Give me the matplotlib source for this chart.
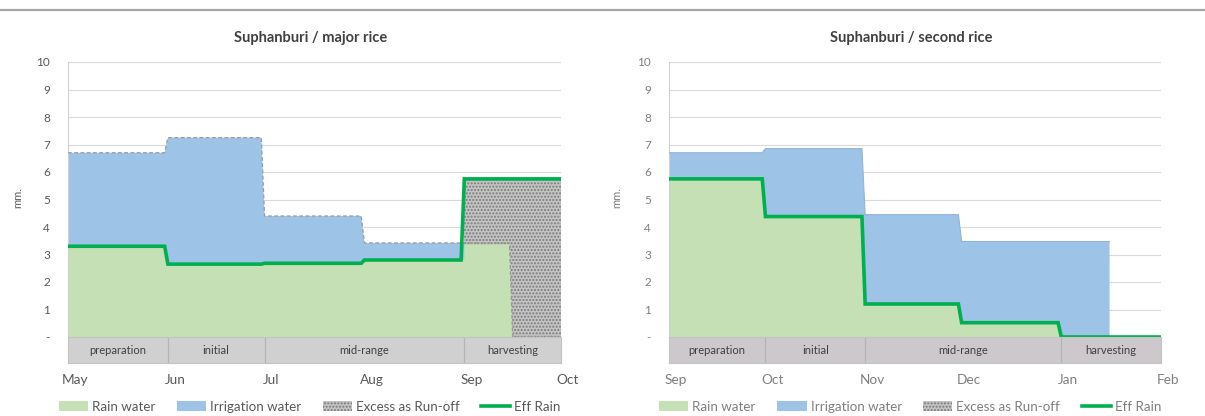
import numpy as np
import matplotlib
matplotlib.use("Agg")
import matplotlib.pyplot as plt
import matplotlib.dates as mdates
import matplotlib.transforms as mtransforms
from matplotlib.patches import Patch
from matplotlib.lines import Line2D

plt.rcParams['font.family'] = ['Lato', 'DejaVu Sans']

# ---------------- data: major rice (May - Oct) ----------------
major_title = "Suphanburi / major rice"
major_months = ['May', 'Jun', 'Jul', 'Aug', 'Sep', 'Oct']
major_month_starts = ['2016-05-01', '2016-06-01', '2016-07-01', '2016-08-01', '2016-09-01', '2016-10-01']
major_breaks = ['2016-05-01', '2016-06-01', '2016-07-01', '2016-08-01', '2016-09-01', '2016-09-16', '2016-10-01']
major_rain = [3.3, 2.65, 2.68, 2.8, 3.37, 0.0]
major_total = [6.7, 7.25, 4.4, 3.42, 3.42, 0.0]        # rain + irrigation (top)
major_irrig_segments = 4                                 # irrigation only May-Aug
major_eff = [3.3, 2.65, 2.68, 2.8, 5.75, 5.75]
major_excess_breaks = ['2016-09-01', '2016-10-01']
major_excess = [5.75]
major_phases = ['preparation', 'initial', 'mid-range', 'harvesting']
major_phase_breaks = ['2016-05-01', '2016-06-01', '2016-07-01', '2016-09-01', '2016-10-01']

# ---------------- data: second rice (Sep - Feb) ----------------
second_title = "Suphanburi / second rice"
second_months = ['Sep', 'Oct', 'Nov', 'Dec', 'Jan', 'Feb']
second_month_starts = ['2016-09-01', '2016-10-01', '2016-11-01', '2016-12-01', '2017-01-01', '2017-02-01']
second_breaks = ['2016-09-01', '2016-10-01', '2016-11-01', '2016-12-01', '2017-01-01', '2017-01-16', '2017-02-01']
second_rain = [5.75, 4.38, 1.2, 0.52, 0.0, 0.0]
second_total = [6.7, 6.85, 4.45, 3.47, 3.47, 0.0]
second_eff = [5.75, 4.38, 1.2, 0.52, 0.0, 0.0]
second_phases = ['preparation', 'initial', 'mid-range', 'harvesting']
second_phase_breaks = ['2016-09-01', '2016-10-01', '2016-11-01', '2017-01-01', '2017-02-01']

legend_labels = ['Rain water', 'Irrigation water', 'Excess as Run-off', 'Eff Rain']
ytick_labels = ['-', '1', '2', '3', '4', '5', '6', '7', '8', '9', '10']

# ---------------- styles ----------------
GREEN_FILL = '#c5e0b4'
BLUE_FILL = '#9dc3e6'
EFF_LINE = '#00b050'
GRID = '#d9d9d9'
TXT = '#595959'

W, H = 1205, 416


def steps(breaks, vals, ramp=1.0):
    b = mdates.datestr2num(breaks)
    xs, ys = [], []
    for i, v in enumerate(vals):
        xs += [b[i], b[i + 1] - (ramp if i < len(vals) - 1 else 0)]
        ys += [v, v]
    return np.array(xs), np.array(ys)


def px_axes(fig, x0, x1, ytop, ybot):
    return fig.add_axes([x0 / W, 1 - ybot / H, (x1 - x0) / W, (ybot - ytop) / H])


fig = plt.figure(figsize=(W / 100, H / 100), dpi=100)
fig.patch.set_facecolor('white')

# top separator line
fig.add_artist(Line2D([0, 1], [1 - 9.5 / H, 1 - 9.5 / H], transform=fig.transFigure,
                      color='#a6a6a6', lw=1.6))


def make_chart(x0, x1, title, months, month_starts, breaks, rain, total, eff,
               phases, phase_breaks, txtcol, band_col, irrig_segments=None,
               excess_breaks=None, excess=None, dashed=True, ylabel_x=18):
    ax = px_axes(fig, x0, x1, 62, 337)
    band = px_axes(fig, x0, x1, 337, 363)
    xlim = mdates.datestr2num([month_starts[0], month_starts[-1]])

    # excess (hatched) behind
    if excess is not None:
        ex, ey = steps(excess_breaks, excess)
        ax.fill_between(ex, 0, ey, facecolor='#c4c4c4', edgecolor='#7a7a7a',
                        hatch='.....', linewidth=0, zorder=1)
        ax.plot([ex[0], ex[-1], ex[-1]], [0, 0, ey[-1]],
                color='#a6a6a6', lw=0.9, ls=(0, (3, 2)), zorder=1.5)

    # rain water
    rx, ry = steps(breaks, rain)
    ax.fill_between(rx, 0, ry, facecolor=GREEN_FILL, linewidth=0, zorder=2)

    # irrigation
    n = irrig_segments if irrig_segments is not None else len(rain)
    bx, b_lo = steps(breaks[:n + 1], rain[:n])
    _, b_hi = steps(breaks[:n + 1], total[:n])
    ax.fill_between(bx, b_lo, b_hi, facecolor=BLUE_FILL, linewidth=0, zorder=2)

    tx, ty = steps(breaks, total)
    if dashed:
        ax.plot(tx, ty, color='#9a9a9a', lw=0.9, ls=(0, (3, 2)), zorder=3)
    else:
        ax.plot(bx, b_hi, color='#8fb4d9', lw=0.8, zorder=3)

    exx, exy = steps(breaks, eff)
    ax.plot(exx, exy, color=EFF_LINE, lw=2.6, zorder=4, solid_joinstyle='miter')

    ax.set_xlim(xlim)
    ax.set_ylim(0, 10)
    ax.set_yticks(range(0, 11))
    ax.set_yticklabels(ytick_labels, color=txtcol, fontsize=8.5)
    ax.tick_params(axis='y', length=0, pad=13)
    ax.set_xticks([])
    for y in range(1, 11):
        ax.axhline(y, color=GRID, lw=0.8, zorder=0)
    for s in ['top', 'right', 'bottom']:
        ax.spines[s].set_visible(False)
    ax.spines['left'].set_color('#d0d0d0')
    ax.spines['left'].set_linewidth(0.8)

    # phase band
    band.set_facecolor(band_col)
    band.set_xlim(xlim)
    band.set_ylim(0, 1)
    band.set_yticks([])
    pb = mdates.datestr2num(phase_breaks)
    for xb in pb[1:-1]:
        band.axvline(xb, color='#b4b4b4', lw=0.9)
    for i, name in enumerate(phases):
        band.text((pb[i] + pb[i + 1]) / 2, 0.5, name, ha='center', va='center',
                  fontsize=8, color='#404040')
    for s in band.spines.values():
        s.set_color('#c4c4c4')
        s.set_linewidth(0.8)
    band.set_xticks(mdates.datestr2num(month_starts))
    band.set_xticklabels(months, color=txtcol, fontsize=9.8)
    band.tick_params(axis='x', length=0, pad=8)
    off = mtransforms.ScaledTranslation(7 / 100, 0, fig.dpi_scale_trans)
    for lab in band.get_xticklabels():
        lab.set_transform(lab.get_transform() + off)

    # title
    fig.text((x0 + x1) / 2 / W - 0.003, 1 - 38 / H, title, ha='center', va='center',
             fontsize=10.5, fontweight='bold', color='#404040')
    fig.text(ylabel_x / W, 1 - 198 / H, 'mm.', rotation=90, ha='center', va='center',
             fontsize=8, color=txtcol)

    handles = [Patch(facecolor=GREEN_FILL, edgecolor='none'),
               Patch(facecolor=BLUE_FILL, edgecolor='none'),
               Patch(facecolor='#c4c4c4', edgecolor='#7a7a7a', hatch='.....', linewidth=0),
               Line2D([0], [0], color=EFF_LINE, lw=2.6)]
    fig.legend(handles, legend_labels, loc='center',
               bbox_to_anchor=((x0 + x1) / 2 / W - 0.004, 1 - 407 / H),
               ncol=4, frameon=False, fontsize=9.6, handlelength=2.2,
               handleheight=0.75, handletextpad=0.3, columnspacing=1.6,
               labelcolor=txtcol, borderaxespad=0, borderpad=0)
    return ax


make_chart(68, 561, major_title, major_months, major_month_starts, major_breaks,
           major_rain, major_total, major_eff, major_phases, major_phase_breaks,
           TXT, '#d0d0d0', irrig_segments=major_irrig_segments,
           excess_breaks=major_excess_breaks, excess=major_excess, dashed=True,
           ylabel_x=18)

make_chart(669, 1161, second_title, second_months, second_month_starts, second_breaks,
           second_rain, second_total, second_eff, second_phases, second_phase_breaks,
           '#7f7f7f', '#cdc8cc', irrig_segments=5, dashed=False, ylabel_x=617)

fig.savefig('out.png', dpi=100, facecolor='white')
